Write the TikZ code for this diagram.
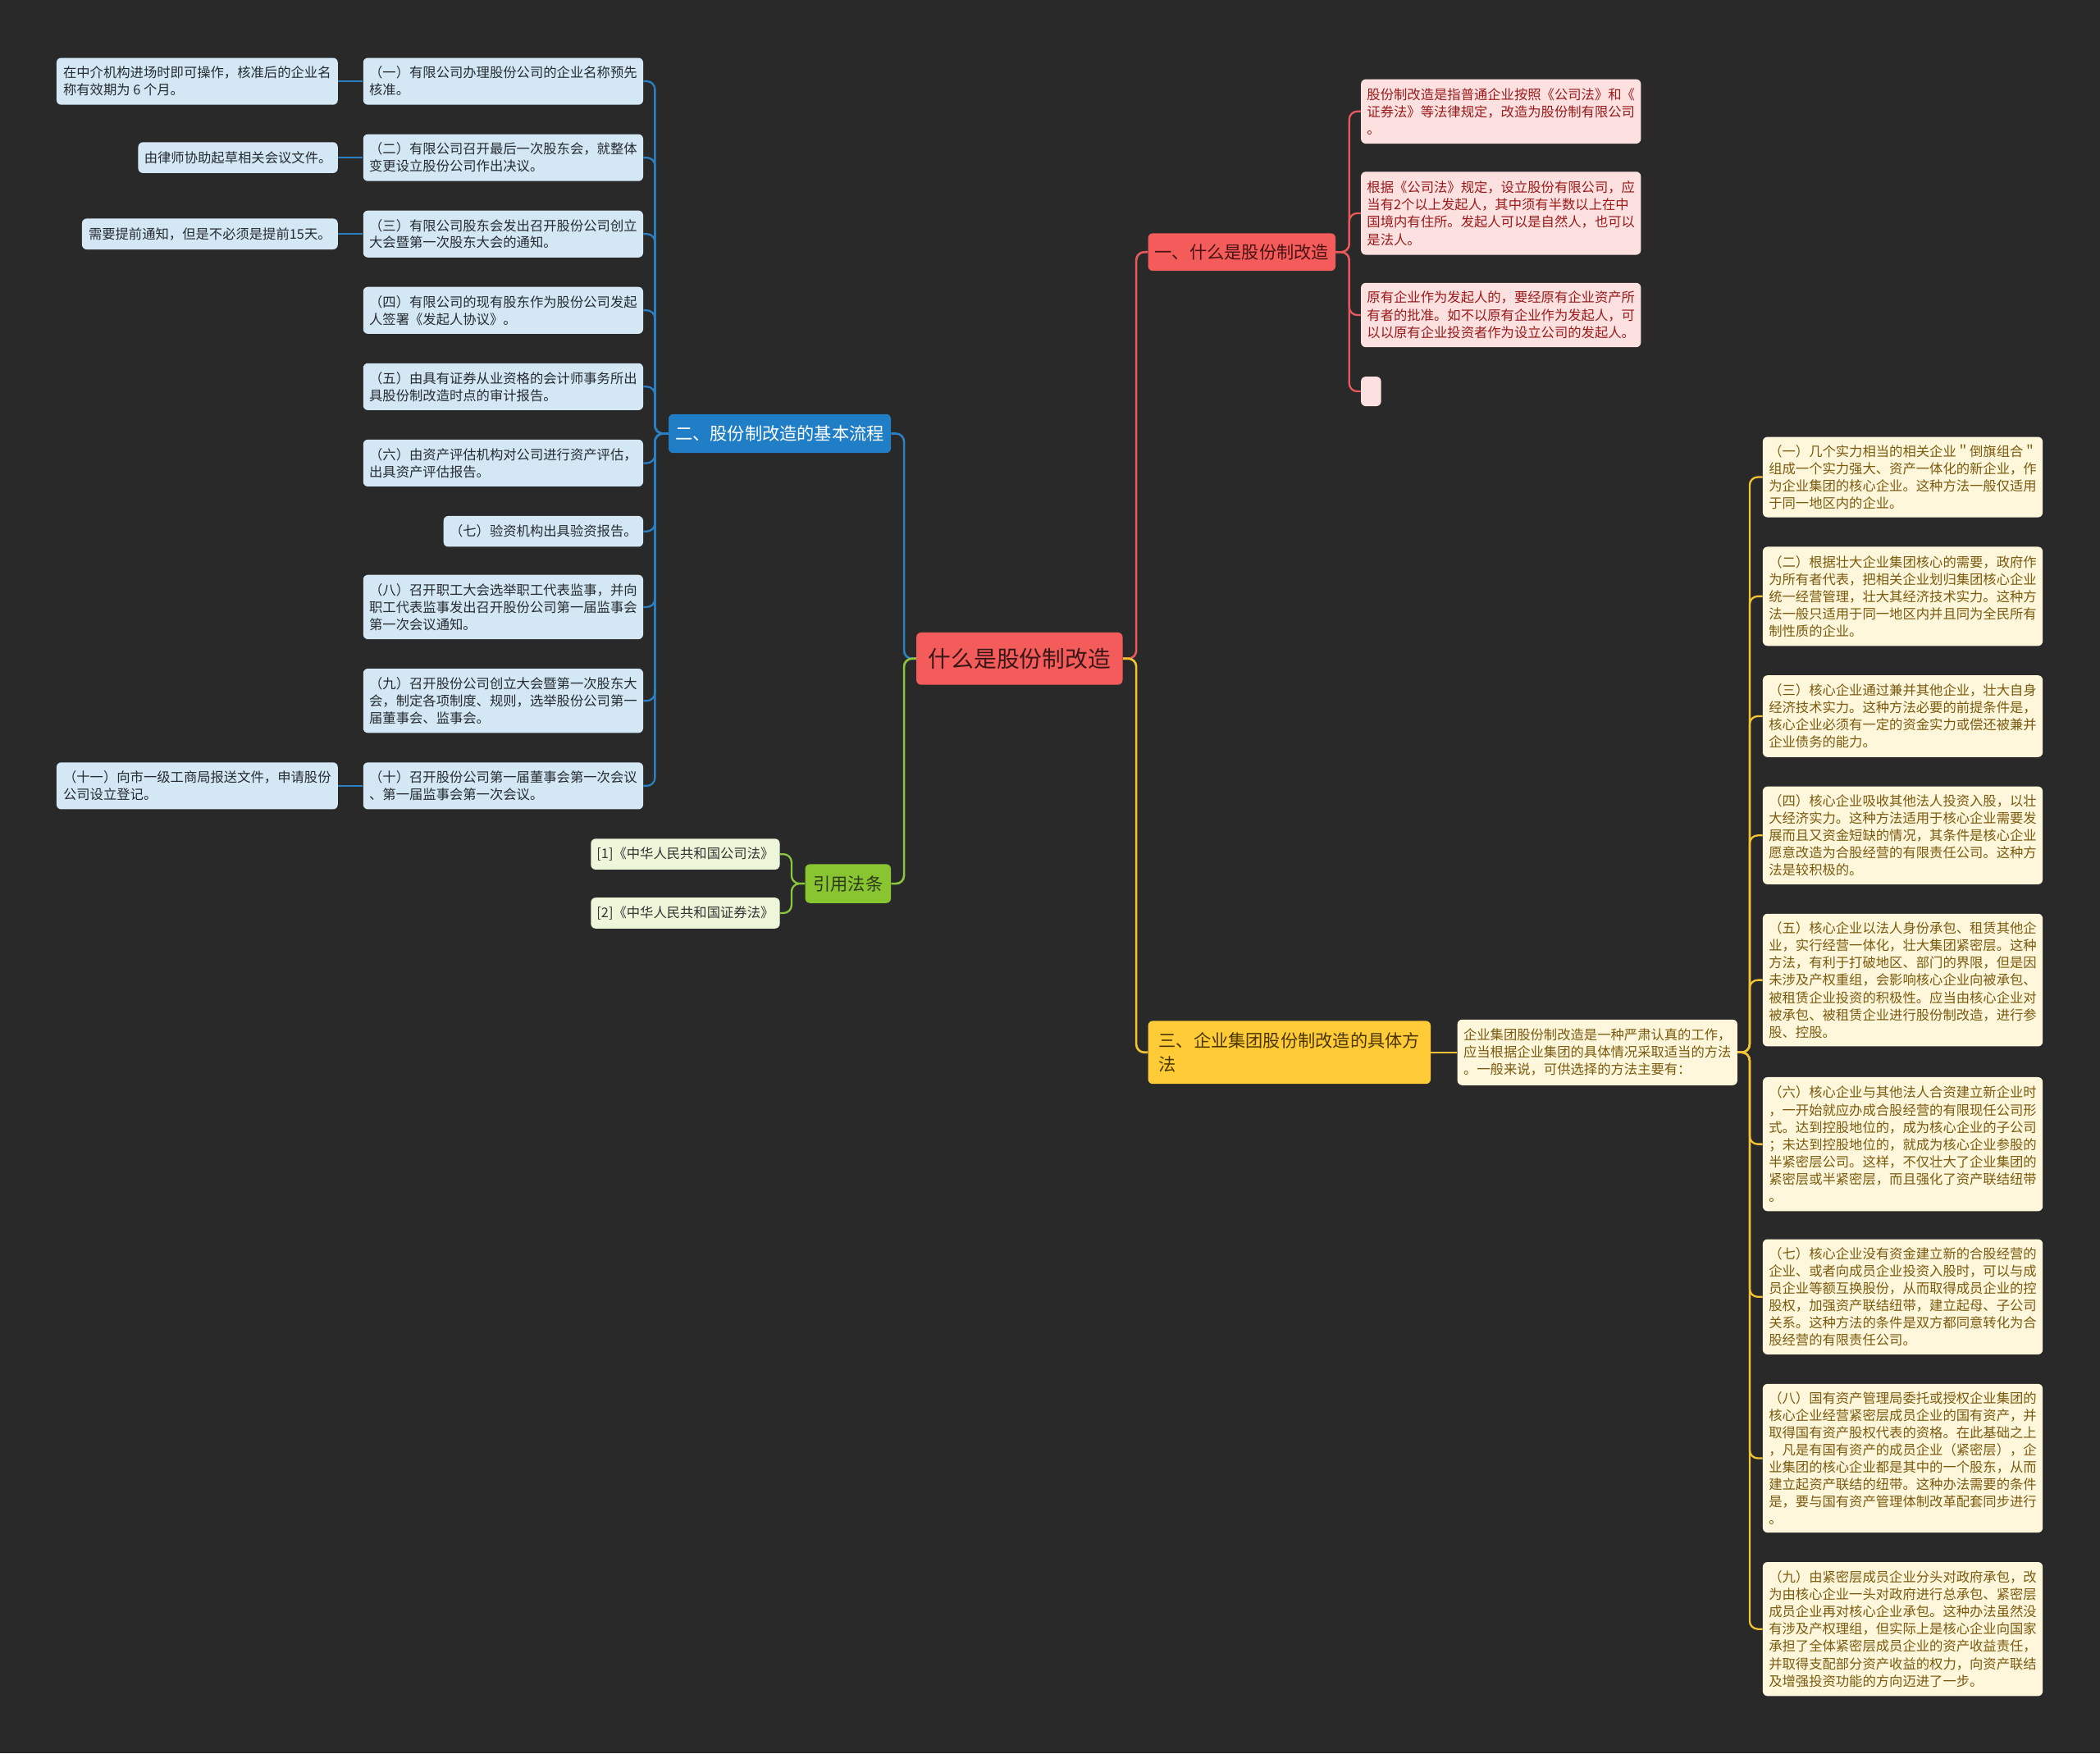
\documentclass[tikz,border=0pt]{standalone}
\usepackage{fontspec}
\setmainfont{Noto Sans CJK SC}
\definecolor{bg}{HTML}{292929}
\definecolor{redf}{HTML}{F45B5B}
\definecolor{roott}{HTML}{3A1616}
\definecolor{b1t}{HTML}{4A1212}
\definecolor{pinkf}{HTML}{FDE0E0}
\definecolor{pinkt}{HTML}{9A1A1A}
\definecolor{bluef}{HTML}{1F7EC6}
\definecolor{lbluef}{HTML}{D3E7F5}
\definecolor{bluet}{HTML}{262B30}
\definecolor{yelf}{HTML}{FFCB37}
\definecolor{yelbt}{HTML}{4A3500}
\definecolor{lyelf}{HTML}{FFF7DB}
\definecolor{yelt}{HTML}{7A5A0E}
\definecolor{greenf}{HTML}{88C531}
\definecolor{greenbt}{HTML}{2E3A1C}
\definecolor{lgreenf}{HTML}{EEF6DA}
\definecolor{greent}{HTML}{333333}
\definecolor{redl}{HTML}{E8585C}
\definecolor{bluel}{HTML}{2A80C2}
\definecolor{yell}{HTML}{F3C334}
\definecolor{greenl}{HTML}{8CC63F}
\tikzset{
  box/.style={anchor=north west, rounded corners=3.5pt, inner sep=0pt, align=left},
  sz/.style 2 args={minimum width=#1, minimum height=#2},
  rootbox/.style={box, fill=redf, text=roott, font=\fontsize{17}{20}\selectfont},
  redbr/.style={box, fill=redf, text=b1t, font=\fontsize{13}{17}\selectfont},
  bluebr/.style={box, fill=bluef, text=white, font=\fontsize{13}{17}\selectfont},
  yelbr/.style={box, fill=yelf, text=yelbt, font=\fontsize{13}{18}\selectfont},
  greenbr/.style={box, fill=greenf, text=greenbt, font=\fontsize{13}{17}\selectfont},
  pinkleaf/.style={box, fill=pinkf, text=pinkt, font=\fontsize{10}{13}\selectfont},
  blueleaf/.style={box, fill=lbluef, text=bluet, font=\fontsize{10}{12.8}\selectfont},
  yelleaf/.style={box, fill=lyelf, text=yelt, font=\fontsize{10}{12.9}\selectfont},
  greenleaf/.style={box, fill=lgreenf, text=greent, font=\fontsize{10}{13}\selectfont},
  mainconn/.style={rounded corners=6pt, line width=1.6pt},
  conn/.style={rounded corners=6pt, line width=1.4pt},
}
\begin{document}
\begin{tikzpicture}[x=1pt,y=-1pt]
\fill[bg] (0,0) rectangle (1568,1309);
\useasboundingbox (0,0) rectangle (1568,1309);

% root
\node[rootbox, sz={154}{39}] (root) at (684,472) {什么是股份制改造};

% branch 1
\node[redbr, sz={140}{28}] (b1) at (857,174) {一、什么是股份制改造};
\node[pinkleaf, sz={209}{48}] (c1) at (1016,59) {股份制改造是指普通企业按照《公司法》和《\\证券法》等法律规定，改造为股份制有限公司\\。};
\node[pinkleaf, sz={209}{62}] (c2) at (1016,128) {根据《公司法》规定，设立股份有限公司，应\\当有2个以上发起人，其中须有半数以上在中\\国境内有住所。发起人可以是自然人，也可以\\是法人。};
\node[pinkleaf, sz={209}{48}] (c3) at (1016,211) {原有企业作为发起人的，要经原有企业资产所\\有者的批准。如不以原有企业作为发起人，可\\以以原有企业投资者作为设立公司的发起人。};
\node[pinkleaf, sz={15}{22}] (c4) at (1016,281) {};

% branch 2
\node[bluebr, sz={166}{29}] (b2) at (499,309) {二、股份制改造的基本流程};
\node[blueleaf, sz={209}{35}] (s1) at (271,43) {（一）有限公司办理股份公司的企业名称预先\\核准。};
\node[blueleaf, sz={209}{35}] (s2) at (271,100) {（二）有限公司召开最后一次股东会，就整体\\变更设立股份公司作出决议。};
\node[blueleaf, sz={209}{35}] (s3) at (271,157) {（三）有限公司股东会发出召开股份公司创立\\大会暨第一次股东大会的通知。};
\node[blueleaf, sz={209}{35}] (s4) at (271,214) {（四）有限公司的现有股东作为股份公司发起\\人签署《发起人协议》。};
\node[blueleaf, sz={209}{35}] (s5) at (271,271) {（五）由具有证券从业资格的会计师事务所出\\具股份制改造时点的审计报告。};
\node[blueleaf, sz={209}{35}] (s6) at (271,328) {（六）由资产评估机构对公司进行资产评估，\\出具资产评估报告。};
\node[blueleaf, sz={149}{23}] (s7) at (331,385) {（七）验资机构出具验资报告。};
\node[blueleaf, sz={209}{48}] (s8) at (271,429) {（八）召开职工大会选举职工代表监事，并向\\职工代表监事发出召开股份公司第一届监事会\\第一次会议通知。};
\node[blueleaf, sz={209}{48}] (s9) at (271,499) {（九）召开股份公司创立大会暨第一次股东大\\会，制定各项制度、规则，选举股份公司第一\\届董事会、监事会。};
\node[blueleaf, sz={209}{35}] (s10) at (271,569) {（十）召开股份公司第一届董事会第一次会议\\、第一届监事会第一次会议。};
\node[blueleaf, sz={210}{35}] (g1) at (42,43) {在中介机构进场时即可操作，核准后的企业名\\称有效期为 6 个月。};
\node[blueleaf, sz={149}{23}] (g2) at (103,106) {由律师协助起草相关会议文件。};
\node[blueleaf, sz={191}{23}] (g3) at (61,163) {需要提前通知，但是不必须是提前15天。};
\node[blueleaf, sz={210}{35}] (g11) at (42,569) {（十一）向市一级工商局报送文件，申请股份\\公司设立登记。};

% branch 4
\node[greenbr, sz={64}{29}] (b4) at (601,645) {引用法条};
\node[greenleaf, sz={141}{23}] (l1) at (441,626) {[1]《中华人民共和国公司法》};
\node[greenleaf, sz={141}{23}] (l2) at (441,670) {[2]《中华人民共和国证券法》};

% branch 3
\node[yelbr, sz={211}{47}] (b3) at (857,762) {三、企业集团股份制改造的具体方\\法};
\node[yelleaf, sz={209}{49}] (b3c) at (1088,761) {企业集团股份制改造是一种严肃认真的工作，\\应当根据企业集团的具体情况采取适当的方法\\。一般来说，可供选择的方法主要有：};
\node[yelleaf, sz={209}{60}] (i1) at (1316,326) {（一）几个实力相当的相关企业＂倒旗组合＂\\组成一个实力强大、资产一体化的新企业，作\\为企业集团的核心企业。这种方法一般仅适用\\于同一地区内的企业。};
\node[yelleaf, sz={209}{74}] (i2) at (1316,408) {（二）根据壮大企业集团核心的需要，政府作\\为所有者代表，把相关企业划归集团核心企业\\统一经营管理，壮大其经济技术实力。这种方\\法一般只适用于同一地区内并且同为全民所有\\制性质的企业。};
\node[yelleaf, sz={209}{61}] (i3) at (1316,504) {（三）核心企业通过兼并其他企业，壮大自身\\经济技术实力。这种方法必要的前提条件是，\\核心企业必须有一定的资金实力或偿还被兼并\\企业债务的能力。};
\node[yelleaf, sz={209}{73}] (i4) at (1316,587) {（四）核心企业吸收其他法人投资入股，以壮\\大经济实力。这种方法适用于核心企业需要发\\展而且又资金短缺的情况，其条件是核心企业\\愿意改造为合股经营的有限责任公司。这种方\\法是较积极的。};
\node[yelleaf, sz={209}{99}] (i5) at (1316,682) {（五）核心企业以法人身份承包、租赁其他企\\业，实行经营一体化，壮大集团紧密层。这种\\方法，有利于打破地区、部门的界限，但是因\\未涉及产权重组，会影响核心企业向被承包、\\被租赁企业投资的积极性。应当由核心企业对\\被承包、被租赁企业进行股份制改造，进行参\\股、控股。};
\node[yelleaf, sz={209}{100}] (i6) at (1316,804) {（六）核心企业与其他法人合资建立新企业时\\，一开始就应办成合股经营的有限现任公司形\\式。达到控股地位的，成为核心企业的子公司\\；未达到控股地位的，就成为核心企业参股的\\半紧密层公司。这样，不仅壮大了企业集团的\\紧密层或半紧密层，而且强化了资产联结纽带\\。};
\node[yelleaf, sz={209}{86}] (i7) at (1316,925) {（七）核心企业没有资金建立新的合股经营的\\企业、或者向成员企业投资入股时，可以与成\\员企业等额互换股份，从而取得成员企业的控\\股权，加强资产联结纽带，建立起母、子公司\\关系。这种方法的条件是双方都同意转化为合\\股经营的有限责任公司。};
\node[yelleaf, sz={209}{111}] (i8) at (1316,1033) {（八）国有资产管理局委托或授权企业集团的\\核心企业经营紧密层成员企业的国有资产，并\\取得国有资产股权代表的资格。在此基础之上\\，凡是有国有资产的成员企业（紧密层），企\\业集团的核心企业都是其中的一个股东，从而\\建立起资产联结的纽带。这种办法需要的条件\\是，要与国有资产管理体制改革配套同步进行\\。};
\node[yelleaf, sz={209}{100}] (i9) at (1316,1166) {（九）由紧密层成员企业分头对政府承包，改\\为由核心企业一头对政府进行总承包、紧密层\\成员企业再对核心企业承包。这种办法虽然没\\有涉及产权理组，但实际上是核心企业向国家\\承担了全体紧密层成员企业的资产收益责任，\\并取得支配部分资产收益的权力，向资产联结\\及增强投资功能的方向迈进了一步。};

% connectors: root
\draw[mainconn, bluel] (root.west) -- ++(-9,0) |- (b2.east);
\draw[mainconn, greenl] (root.west) -- ++(-9,0) |- (b4.east);
\draw[mainconn, redl] (root.east) -- ++(10,0) |- (b1.west);
\draw[mainconn, yell] (root.east) -- ++(10,0) |- (b3.west);

% branch 1
\foreach \c in {c1,c2,c3,c4}
  \draw[conn, redl] (b1.east) -- ++(10,0) |- (\c.west);
% branch 2
\foreach \c in {s1,s2,s3,s4,s5,s6,s7,s8,s9,s10}
  \draw[conn, bluel] (b2.west) -- ++(-10,0) |- (\c.east);
\draw[conn, bluel] (g1.east) -- (s1.west);
\draw[conn, bluel] (g2.east) -- (s2.west);
\draw[conn, bluel] (g3.east) -- (s3.west);
\draw[conn, bluel] (g11.east) -- (s10.west);
% branch 4
\foreach \c in {l1,l2}
  \draw[conn, greenl] (b4.west) -- ++(-10,0) |- (\c.east);
% branch 3
\draw[conn, yell] (b3.east) -- (b3c.west);
\foreach \c in {i1,i2,i3,i4,i5,i6,i7,i8,i9}
  \draw[conn, yell] (b3c.east) -- ++(9,0) |- (\c.west);
\end{tikzpicture}
\end{document}
